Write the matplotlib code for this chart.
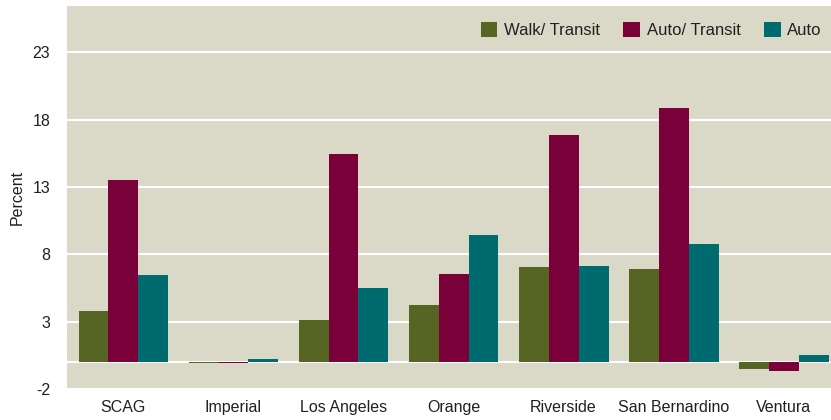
import matplotlib
matplotlib.use("Agg")
import matplotlib.pyplot as plt
import numpy as np

plt.rcParams['font.family'] = ['Liberation Sans', 'DejaVu Sans']

categories = ["SCAG", "Imperial", "Los Angeles", "Orange", "Riverside", "San Bernardino", "Ventura"]
walk_transit = [3.8, -0.1, 3.15, 4.25, 7.05, 6.9, -0.5]
auto_transit = [13.5, -0.1, 15.45, 6.55, 16.9, 18.9, -0.7]
auto = [6.5, 0.25, 5.5, 9.45, 7.15, 8.8, 0.55]
series_names = ["Walk/ Transit", "Auto/ Transit", "Auto"]
colors = ["#566424", "#7a003a", "#006b6e"]
yticks = [-2, 3, 8, 13, 18, 23]

fig = plt.figure(figsize=(8.31, 4.2), dpi=100)
ax = fig.add_axes([67/831, 1-389/420, (831-67)/831, (389-6)/420])
bg = "#dad8c7"
ax.set_facecolor(bg)

x = np.arange(len(categories))
w = 0.272
for i, (vals, name, c) in enumerate(zip([walk_transit, auto_transit, auto], series_names, colors)):
    ax.bar(x + (i-1)*w, vals, width=w, color=c, label=name, zorder=3)

ax.set_xlim(-0.513, len(categories)-0.57)
ax.set_ylim(-2, 26.45)
ax.set_yticks(yticks)
ax.set_yticklabels([str(t) for t in yticks])
ax.set_xticks(x)
ax.set_xticklabels(categories)
for t in [3, 8, 13, 18, 23, 0]:
    ax.axhline(t, color="white", lw=1.5, zorder=1)
ax.axhline(-2, color="white", lw=1.5, zorder=1, clip_on=False)
for s in ax.spines.values():
    s.set_visible(False)
fs = 11.5
ax.tick_params(length=0, labelsize=fs, colors="#231f20")
ax.tick_params(axis='y', pad=12)
ax.tick_params(axis='x', pad=8)
ax.set_ylabel("Percent", fontsize=fs, color="#231f20")
ax.yaxis.set_label_coords(-0.055, 0.5)

leg = ax.legend(loc="upper right", ncol=3, frameon=False, fontsize=12,
                handlelength=1.0, handleheight=1.0, handletextpad=0.4,
                columnspacing=1.4, bbox_to_anchor=(1.0, 0.982), borderaxespad=0.15)
for t in leg.get_texts():
    t.set_color("#231f20")

fig.savefig("out.png", dpi=100)
